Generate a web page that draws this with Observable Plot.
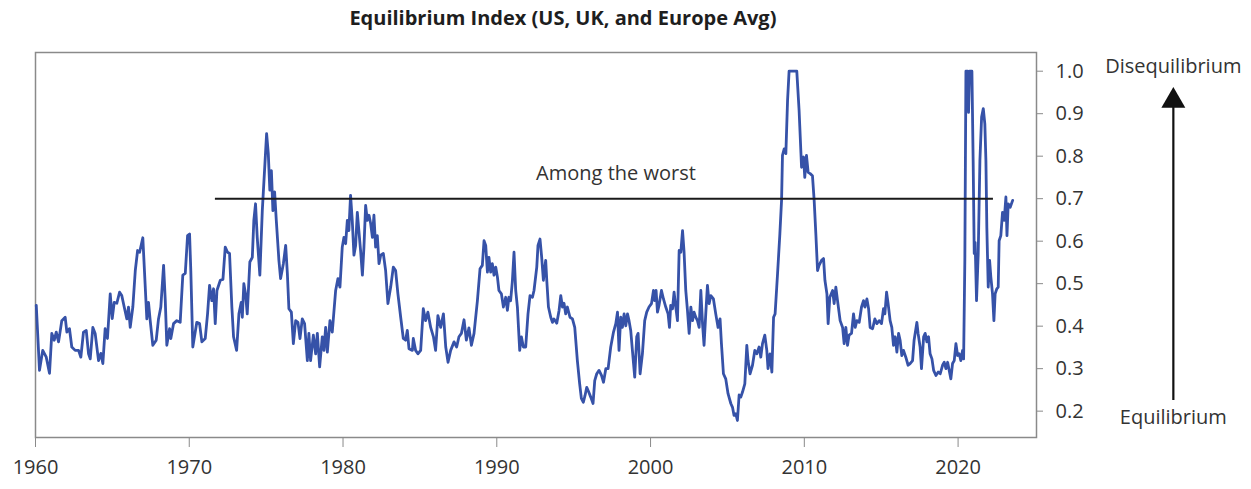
<!DOCTYPE html>
<html>
<head>
<meta charset="utf-8">
<script src="https://cdn.jsdelivr.net/npm/d3@7"></script>
<script src="https://cdn.jsdelivr.net/npm/@observablehq/plot@0.6"></script>
<style>
  html, body { margin: 0; padding: 0; background: #fff; }
  #chart svg { display: block; }
</style>
</head>
<body>
<div id="chart"></div>
<script>
const years = [
1960.05,1960.26,1960.47,1960.70,1960.91,1961.06,1961.22,1961.35,1961.50,1961.71,1961.93,1962.04,1962.21,1962.36,1962.58,1962.80,1962.95,1963.12,1963.30,1963.45,1963.56,1963.73,1963.88,1964.10,1964.25,1964.38,1964.53,1964.68,1964.86,1964.99,
1965.12,1965.29,1965.47,1965.61,1965.77,1965.94,1966.05,1966.16,1966.33,1966.49,1966.64,1966.77,1966.98,1967.24,1967.35,1967.46,1967.63,1967.85,1968.00,1968.15,1968.33,1968.44,1968.54,1968.72,1968.80,1968.98,1969.19,1969.41,1969.58,1969.74,
1969.89,1970.02,1970.10,1970.23,1970.49,1970.67,1970.82,1971.04,1971.19,1971.32,1971.47,1971.58,1971.69,1971.80,1972.02,1972.19,1972.34,1972.49,1972.62,1972.77,1972.88,1973.08,1973.23,1973.38,1973.45,1973.55,1973.66,1973.77,1973.94,1974.10,
1974.20,1974.31,1974.42,1974.59,1974.75,1974.92,1975.03,1975.14,1975.24,1975.34,1975.44,1975.55,1975.66,1975.83,1975.94,1976.12,1976.27,1976.38,1976.48,1976.64,1976.77,1976.92,1977.07,1977.20,1977.35,1977.50,1977.68,1977.78,1977.89,1978.07,
1978.22,1978.33,1978.48,1978.65,1978.76,1978.87,1978.98,1979.15,1979.30,1979.52,1979.67,1979.80,1979.95,1980.06,1980.17,1980.28,1980.38,1980.49,1980.60,1980.71,1980.82,1980.93,1981.03,1981.15,1981.26,1981.36,1981.47,1981.58,1981.69,1981.80,
1981.91,1982.01,1982.12,1982.23,1982.34,1982.45,1982.62,1982.77,1982.92,1983.10,1983.27,1983.42,1983.57,1983.75,1983.92,1984.07,1984.18,1984.29,1984.51,1984.57,1984.72,1984.87,1985.05,1985.22,1985.37,1985.52,1985.70,1985.88,1986.02,1986.17,
1986.35,1986.53,1986.68,1986.83,1987.00,1987.22,1987.39,1987.54,1987.70,1987.87,1988.02,1988.19,1988.35,1988.52,1988.74,1988.91,1989.06,1989.17,1989.28,1989.39,1989.49,1989.60,1989.71,1989.82,1989.93,1990.04,1990.14,1990.30,1990.43,1990.58,
1990.69,1990.79,1990.90,1991.01,1991.12,1991.23,1991.34,1991.49,1991.60,1991.73,1991.88,1992.03,1992.16,1992.32,1992.42,1992.60,1992.68,1992.81,1992.92,1993.03,1993.18,1993.25,1993.36,1993.51,1993.62,1993.72,1993.90,1994.05,1994.16,1994.27,
1994.37,1994.48,1994.59,1994.76,1994.92,1995.07,1995.24,1995.39,1995.50,1995.63,1995.74,1995.85,1995.98,1996.11,1996.26,1996.37,1996.50,1996.65,1996.81,1996.94,1997.09,1997.24,1997.41,1997.59,1997.74,1997.85,1997.95,1998.06,1998.17,1998.28,
1998.39,1998.50,1998.60,1998.71,1998.82,1998.97,1999.10,1999.19,1999.32,1999.47,1999.62,1999.75,1999.90,2000.06,2000.19,2000.27,2000.36,2000.45,2000.55,2000.71,2000.84,2000.99,2001.14,2001.23,2001.31,2001.43,2001.53,2001.64,2001.75,2001.86,
2001.97,2002.08,2002.18,2002.29,2002.40,2002.51,2002.62,2002.73,2002.83,2002.94,2003.05,2003.16,2003.27,2003.38,2003.48,2003.59,2003.70,2003.81,2003.92,2004.09,2004.24,2004.39,2004.52,2004.61,2004.74,2004.89,2005.04,2005.22,2005.33,2005.43,
2005.54,2005.65,2005.76,2005.87,2005.98,2006.13,2006.26,2006.34,2006.47,2006.63,2006.78,2006.91,2007.06,2007.17,2007.28,2007.43,2007.56,2007.64,2007.77,2007.89,2008.00,2008.10,2008.26,2008.41,2008.52,2008.58,2008.69,2008.80,2008.91,2009.01,
2009.51,2009.66,2009.82,2009.95,2010.03,2010.14,2010.25,2010.38,2010.53,2010.64,2010.75,2010.86,2010.96,2011.12,2011.25,2011.34,2011.47,2011.55,2011.66,2011.84,2011.94,2012.05,2012.16,2012.33,2012.49,2012.59,2012.70,2012.81,2012.91,2013.07,
2013.20,2013.31,2013.42,2013.57,2013.72,2013.85,2013.94,2014.07,2014.18,2014.28,2014.44,2014.59,2014.72,2014.87,2015.02,2015.15,2015.24,2015.35,2015.45,2015.58,2015.69,2015.80,2015.91,2016.02,2016.13,2016.23,2016.34,2016.45,2016.60,2016.75,
2016.88,2017.04,2017.14,2017.32,2017.40,2017.53,2017.62,2017.76,2017.86,2017.97,2018.08,2018.18,2018.30,2018.41,2018.56,2018.71,2018.84,2018.99,2019.10,2019.21,2019.32,2019.42,2019.53,2019.64,2019.75,2019.86,2019.97,2020.07,2020.18,2020.29,
2020.36,2020.44,2020.51,2020.62,2020.68,2020.75,2020.90,2020.98,2021.05,2021.11,2021.20,2021.31,2021.42,2021.53,2021.64,2021.74,2021.81,2021.87,2021.96,2022.05,2022.13,2022.24,2022.33,2022.41,2022.52,2022.61,2022.67,2022.78,2022.89,2023.00,
2023.11,2023.18,2023.26,2023.39,2023.55
];

const values = [
0.449,0.296,0.343,0.327,0.289,0.383,0.367,0.386,0.363,0.413,0.421,0.386,0.394,0.351,0.343,0.343,0.327,0.386,0.390,0.335,0.323,0.397,0.383,0.319,0.336,0.312,0.394,0.371,0.476,0.418,
0.456,0.454,0.480,0.472,0.445,0.417,0.445,0.397,0.445,0.531,0.578,0.574,0.608,0.417,0.456,0.413,0.355,0.367,0.417,0.445,0.543,0.460,0.355,0.394,0.371,0.406,0.413,0.409,0.520,0.524,
0.613,0.617,0.531,0.351,0.409,0.406,0.363,0.371,0.429,0.496,0.460,0.488,0.406,0.484,0.508,0.510,0.586,0.574,0.571,0.445,0.375,0.343,0.429,0.456,0.421,0.500,0.476,0.429,0.551,0.562,
0.649,0.688,0.609,0.520,0.672,0.782,0.853,0.806,0.720,0.766,0.672,0.716,0.649,0.555,0.512,0.547,0.590,0.524,0.441,0.433,0.359,0.413,0.409,0.371,0.417,0.406,0.319,0.383,0.319,0.379,
0.335,0.383,0.304,0.375,0.343,0.397,0.339,0.413,0.386,0.484,0.512,0.492,0.586,0.609,0.594,0.649,0.625,0.708,0.649,0.567,0.590,0.668,0.625,0.574,0.520,0.586,0.684,0.649,0.661,0.641,
0.609,0.661,0.586,0.613,0.547,0.567,0.571,0.531,0.453,0.492,0.539,0.531,0.476,0.421,0.371,0.367,0.390,0.347,0.343,0.371,0.343,0.335,0.343,0.441,0.413,0.433,0.397,0.375,0.343,0.425,
0.397,0.429,0.351,0.315,0.343,0.363,0.351,0.375,0.383,0.415,0.367,0.396,0.355,0.383,0.460,0.535,0.543,0.601,0.590,0.527,0.562,0.527,0.547,0.520,0.539,0.516,0.484,0.476,0.445,0.468,
0.437,0.468,0.460,0.504,0.574,0.484,0.445,0.343,0.375,0.351,0.351,0.429,0.472,0.468,0.484,0.539,0.590,0.605,0.562,0.508,0.555,0.508,0.445,0.421,0.409,0.417,0.407,0.437,0.472,0.445,
0.454,0.429,0.445,0.421,0.417,0.397,0.319,0.264,0.230,0.221,0.237,0.256,0.245,0.233,0.218,0.272,0.288,0.296,0.284,0.268,0.300,0.300,0.351,0.386,0.406,0.433,0.343,0.421,0.397,0.429,
0.401,0.429,0.413,0.390,0.343,0.280,0.375,0.383,0.288,0.335,0.413,0.433,0.445,0.453,0.484,0.460,0.484,0.433,0.449,0.484,0.464,0.445,0.429,0.397,0.449,0.441,0.480,0.445,0.413,0.578,
0.574,0.625,0.574,0.484,0.437,0.383,0.445,0.413,0.433,0.421,0.413,0.397,0.484,0.406,0.355,0.429,0.496,0.453,0.472,0.464,0.429,0.397,0.417,0.359,0.288,0.276,0.241,0.218,0.209,0.190,
0.194,0.178,0.238,0.233,0.245,0.264,0.355,0.319,0.288,0.308,0.343,0.335,0.351,0.327,0.359,0.379,0.343,0.300,0.335,0.292,0.421,0.429,0.524,0.617,0.696,0.802,0.817,0.806,0.931,1.000,
1.000,0.908,0.774,0.798,0.750,0.802,0.762,0.759,0.754,0.696,0.617,0.531,0.543,0.555,0.559,0.508,0.476,0.406,0.468,0.484,0.453,0.492,0.460,0.413,0.397,0.359,0.397,0.355,0.379,0.383,
0.429,0.397,0.413,0.409,0.445,0.460,0.445,0.464,0.441,0.397,0.394,0.417,0.406,0.413,0.406,0.441,0.429,0.480,0.453,0.413,0.397,0.355,0.375,0.339,0.383,0.367,0.331,0.343,0.327,0.308,
0.312,0.319,0.367,0.409,0.383,0.351,0.300,0.375,0.383,0.363,0.375,0.335,0.323,0.296,0.284,0.292,0.288,0.308,0.315,0.300,0.315,0.296,0.276,0.312,0.319,0.359,0.331,0.335,0.319,0.343,
0.323,0.555,1.000,1.000,0.903,1.000,1.000,0.790,0.571,0.597,0.460,0.571,0.790,0.892,0.912,0.876,0.790,0.633,0.492,0.555,0.516,0.476,0.413,0.476,0.488,0.492,0.601,0.613,0.668,0.649,
0.704,0.613,0.688,0.680,0.696
];

const xTicks = [1960, 1970, 1980, 1990, 2000, 2010, 2020];
const yTicks = [0.2, 0.3, 0.4, 0.5, 0.6, 0.7, 0.8, 0.9, 1.0];
const titleText = ["Equilibrium Index (US, UK, and Europe Avg)"];
const worstLine = [{x1: 1971.7, x2: 2022.3, y: 0.7}];
const worstLabel = [{x: 1997.75, y: 0.7, text: "Among the worst"}];
const scaleLabels = [
  {x: 2034, y: 1.011, text: "Disequilibrium"},
  {x: 2034, y: 0.185, text: "Equilibrium"}
];
const arrowShaft = [{x: 2034, y1: 0.225, y2: 0.915}];
const arrowHead = [{x: 2034, y: 0.93}];

const series = years.map((yr, i) => ({year: yr, value: values[i]}));

const ink = "#333333";
const axisGray = "#8a8a8a";
const lineBlue = "#3652a8";

const chart = Plot.plot({
  width: 1251,
  height: 489,
  marginLeft: 35,
  marginRight: 215,
  marginTop: 52,
  marginBottom: 52,
  style: {fontFamily: "'Open Sans', 'DejaVu Sans', sans-serif", background: "#fff"},
  x: {domain: [1960, 2025.1]},
  y: {domain: [0.138, 1.044]},
  marks: [
    Plot.frame({stroke: axisGray, strokeWidth: 1.5}),
    Plot.axisX({
      ticks: xTicks, tickSize: 10, tickPadding: 12,
      tickFormat: d => String(d), label: null,
      stroke: axisGray, fill: ink, fontSize: 20
    }),
    Plot.axisY({
      anchor: "right", ticks: yTicks, tickSize: 6, tickPadding: 13,
      tickFormat: d3.format(".1f"), label: null,
      stroke: axisGray, fill: ink, fontSize: 20
    }),
    Plot.line(series, {x: "year", y: "value", stroke: lineBlue, strokeWidth: 2.8, strokeLinejoin: "round"}),
    Plot.ruleY(worstLine, {x1: "x1", x2: "x2", y: "y", stroke: "#1a1a1a", strokeWidth: 2}),
    Plot.text(worstLabel, {x: "x", y: "y", text: "text", dy: -25, fontSize: 20, fill: ink}),
    Plot.text(titleText, {
      x: () => 1994.3, frameAnchor: "top", lineAnchor: "middle", dy: -34, text: d => d,
      fontSize: 20, fontWeight: "bold", fill: "#1e1e1e"
    }),
    Plot.text(scaleLabels, {x: "x", y: "y", text: "text", fontSize: 20, fill: ink}),
    Plot.ruleX(arrowShaft, {x: "x", y1: "y1", y2: "y2", stroke: "#111", strokeWidth: 2.2}),
    Plot.dot(arrowHead, {x: "x", y: "y", symbol: "triangle", r: 8.9, fill: "#111", stroke: "none"})
  ]
});

document.getElementById("chart").appendChild(chart);
</script>
</body>
</html>
